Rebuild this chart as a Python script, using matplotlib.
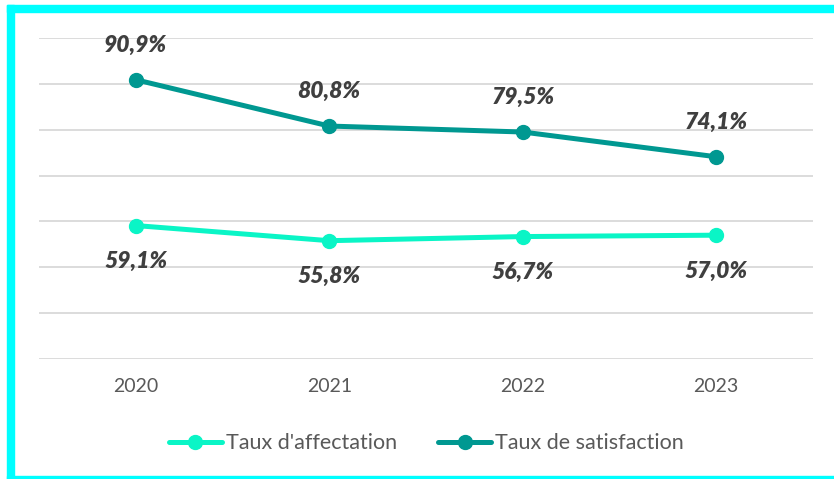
import matplotlib
matplotlib.use("Agg")
import matplotlib.pyplot as plt
from matplotlib.patches import Rectangle

years = ["2020", "2021", "2022", "2023"]
affectation = [59.1, 55.8, 56.7, 57.0]
satisfaction = [90.9, 80.8, 79.5, 74.1]
series_names = ["Taux d'affectation", "Taux de satisfaction"]

c_aff = "#0AF5C6"
c_sat = "#009891"
txt_grey = "#595959"
lbl_grey = "#3F3F3F"

plt.rcParams['font.family'] = ['Lato', 'DejaVu Sans']

W, H = 834, 479
fig = plt.figure(figsize=(W/100, H/100), dpi=100)
ax = fig.add_axes([39/W, 1-359/H, (813-39)/W, (359-38)/H])

x = list(range(len(years)))
ax.plot(x, affectation, color=c_aff, lw=3.6, marker='o', ms=10, label=series_names[0], solid_capstyle='round')
ax.plot(x, satisfaction, color=c_sat, lw=3.6, marker='o', ms=10, label=series_names[1], solid_capstyle='round')

def fmt(v):
    return f"{v:.1f}%".replace('.', ',')

for i, v in enumerate(satisfaction):
    ax.annotate(fmt(v), (i, v), xytext=(0, 25), textcoords='offset points',
                ha='center', va='center', fontsize=16.5, fontweight='heavy', fontstyle='italic', color=lbl_grey)
for i, v in enumerate(affectation):
    ax.annotate(fmt(v), (i, v), xytext=(0, -26), textcoords='offset points',
                ha='center', va='center', fontsize=16.5, fontweight='heavy', fontstyle='italic', color=lbl_grey)

ax.set_xlim(-0.5, 3.5)
ax.set_ylim(30, 100)
ax.set_yticks(range(30, 101, 10))
ax.set_yticklabels([])
ax.set_xticks(x)
ax.set_xticklabels(years, fontsize=14, color=txt_grey)
ax.tick_params(axis='both', length=0)
ax.tick_params(axis='x', pad=14)
ax.grid(axis='y', color='#D9D9D9', lw=1.3)
ax.set_axisbelow(True)
for s in ax.spines.values():
    s.set_visible(False)

leg = ax.legend(loc='center', bbox_to_anchor=(0.5, -0.262), ncol=2, frameon=False,
                fontsize=15.5, handlelength=2.5, columnspacing=1.9, handletextpad=0.15)
for t in leg.get_texts():
    t.set_color(txt_grey)

# cyan frame (left, top, bottom)
cyan = "#00FFFF"
fig.patches.append(Rectangle((7/W, 0), 7/W, 1-5/H, transform=fig.transFigure, color=cyan, zorder=0))
fig.patches.append(Rectangle((7/W, 1-12/H), 1, 7/H, transform=fig.transFigure, color=cyan, zorder=0))
fig.patches.append(Rectangle((7/W, 0), 1, 3/H, transform=fig.transFigure, color=cyan, zorder=0))

fig.savefig("out.png", dpi=100)
